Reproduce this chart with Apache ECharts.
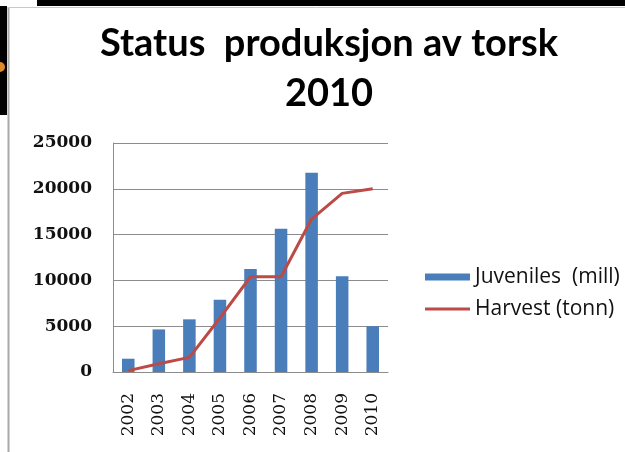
<!DOCTYPE html>
<html>
<head>
<meta charset="utf-8">
<script src="https://cdn.jsdelivr.net/npm/echarts@6/dist/echarts.min.js"></script>
<style>
  html, body { margin: 0; padding: 0; background: #fff; }
  #main { width: 625px; height: 452px; }
</style>
</head>
<body>
<div id="main"></div>
<script>
// data
var years = ['2002', '2003', '2004', '2005', '2006', '2007', '2008', '2009', '2010'];
var juveniles = [1450, 4650, 5750, 7900, 11250, 15650, 21750, 10450, 5000];
var harvest = [150, 900, 1600, 5900, 10400, 10400, 16700, 19500, 20000];
var yTicks = [0, 5000, 10000, 15000, 20000, 25000];
var seriesNames = ['Juveniles  (mill)', 'Harvest (tonn)'];

var myChart = echarts.init(document.getElementById('main'));

option = {
  backgroundColor: '#fff',
  animation: false,
  title: {
    text: 'Status  produksjon av torsk\n2010',
    left: 324,
    textAlign: 'center',
    top: 14,
    textStyle: {
      fontFamily: 'Lato',
      fontWeight: 'bold',
      fontSize: 38,
      lineHeight: 50,
      color: '#000'
    }
  },
  legend: {
    orient: 'vertical',
    left: 420,
    top: 261,
    itemWidth: 45,
    itemHeight: 7,
    itemGap: 10,
    symbolKeepAspect: false,
    textStyle: { fontFamily: 'Open Sans', fontSize: 21, lineHeight: 22, color: '#111' },
    data: [
      { name: seriesNames[0], icon: 'rect' },
      { name: seriesNames[1], icon: 'path://M0,0L0,0M0,2L45,2L45,5L0,5ZM0,7L0,7' }
    ]
  },
  grid: { left: 113, right: 237, top: 143, bottom: 80 },
  xAxis: {
    type: 'category',
    data: years,
    axisLine: { lineStyle: { color: '#8c8c8c', width: 1 } },
    axisTick: { show: false },
    axisLabel: {
      rotate: 90,
      margin: 21,
      fontFamily: 'DejaVu Serif',
      fontSize: 17,
      color: '#111'
    }
  },
  yAxis: {
    type: 'value',
    min: yTicks[0],
    max: yTicks[yTicks.length - 1],
    interval: 5000,
    axisLine: { show: true, lineStyle: { color: '#8c8c8c', width: 1 } },
    axisTick: { show: false },
    splitLine: { lineStyle: { color: '#8c8c8c', width: 1 } },
    axisLabel: {
      margin: 21,
      fontFamily: 'DejaVu Serif',
      fontWeight: 'bold',
      fontSize: 17,
      color: '#111',
      formatter: function (v) { return String(v); }
    }
  },
  series: [
    {
      name: seriesNames[0],
      type: 'bar',
      data: juveniles,
      barWidth: '41%',
      itemStyle: { color: '#4a7ebb' }
    },
    {
      name: seriesNames[1],
      type: 'line',
      data: harvest,
      symbol: 'none',
      lineStyle: { color: '#bc4a47', width: 3 },
      itemStyle: { color: '#bc4a47' }
    }
  ],
  graphic: [
    // slide frame bits around the chart
    { type: 'rect', shape: { x: 37, y: 0, width: 588, height: 6 }, style: { fill: '#000' } },
    { type: 'rect', shape: { x: 0, y: 6, width: 7, height: 109 }, style: { fill: '#000' } },
    { type: 'circle', shape: { cx: 0, cy: 67, r: 5 }, style: { fill: '#e08a2a' } },
    { type: 'line', shape: { x1: 8.5, y1: 7, x2: 8.5, y2: 452 }, style: { stroke: '#a8a8a8', lineWidth: 2 } },
    { type: 'line', shape: { x1: 8, y1: 7.5, x2: 625, y2: 7.5 }, style: { stroke: '#c8c8c8', lineWidth: 1 } }
  ]
};

myChart.setOption(option);
</script>
</body>
</html>
